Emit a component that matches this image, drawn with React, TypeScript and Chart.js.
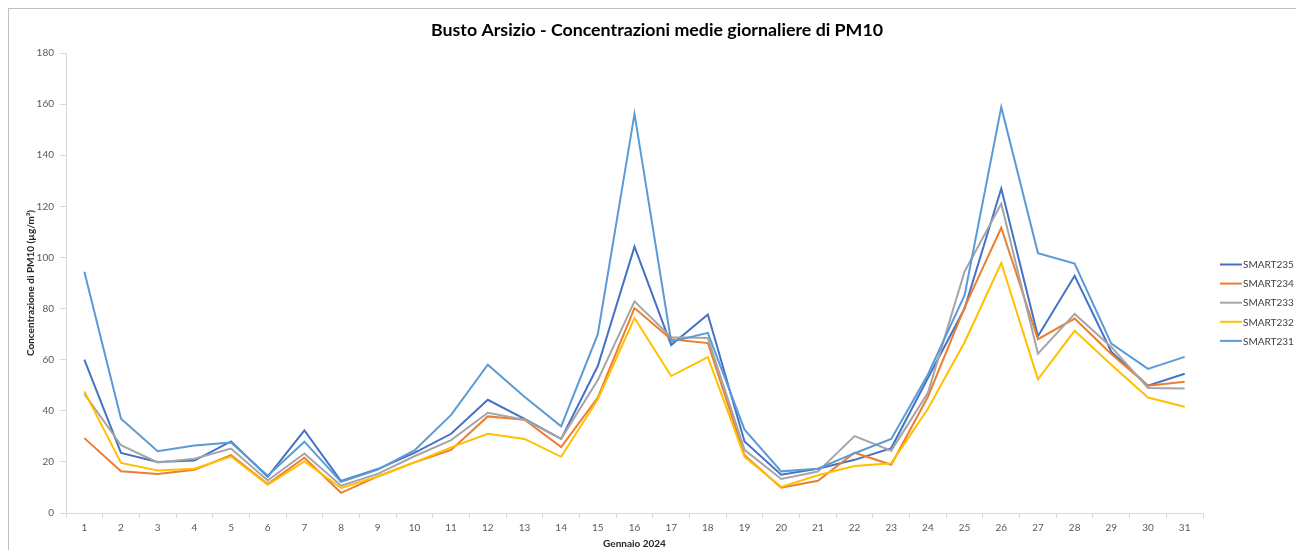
import React, { useEffect, useRef } from "react";
import { Chart, registerables } from "chart.js";

Chart.register(...registerables);

const days = Array.from({ length: 31 }, (_, i) => String(i + 1));

const smart235 = [60, 23.5, 20, 20.5, 28, 14.2, 32.3, 12.5, 17.2, 23.5, 31, 44.3, 36.8, 29, 57.5, 104.2, 65.7, 77.7, 28, 15, 17.3, 20.8, 25.4, 52.8, 80, 127, 69.2, 92.8, 63.1, 49.8, 54.5];
const smart234 = [29.3, 16.3, 15.3, 16.9, 22.6, 11.3, 21.6, 7.9, 14.3, 19.8, 24.7, 37.8, 36.5, 25.8, 45.2, 80.2, 68, 66.5, 22.6, 9.9, 12.6, 23.6, 18.9, 45.5, 80.5, 111.6, 68, 76.1, 62.2, 49.8, 51.4];
const smart233 = [46.6, 26.5, 19.8, 21.2, 25.2, 12.7, 23.3, 10.7, 15.3, 22.2, 28.5, 39.2, 36.5, 29, 52, 82.8, 68.8, 68.5, 24.7, 13.3, 16.2, 30.1, 24.4, 47, 94.5, 121, 62.3, 77.9, 65, 48.9, 48.7];
const smart232 = [47.6, 19.6, 16.6, 17.3, 22.1, 11, 20.2, 9.8, 14.3, 19.8, 25.7, 31, 29, 22, 44.5, 76.3, 53.6, 61, 22, 10.2, 14.8, 18.4, 19.5, 40.8, 66.8, 97.8, 52.3, 71.3, 58, 45.2, 41.6];
const smart231 = [94.4, 36.9, 24.2, 26.4, 27.6, 14.6, 27.9, 12.2, 17, 24.5, 38.4, 58, 45.5, 33.9, 70, 156.2, 67, 70.5, 32.6, 16.3, 17.3, 23.4, 29, 54.2, 85.2, 158.8, 101.7, 97.6, 66.3, 56.4, 61.1];

const seriesNames = ["SMART235", "SMART234", "SMART233", "SMART232", "SMART231"];
const seriesColors = ["#4472C4", "#ED7D31", "#A5A5A5", "#FFC000", "#5B9BD5"];
const seriesData = [smart235, smart234, smart233, smart232, smart231];

const yTicks = { min: 0, max: 180, step: 20 };

const titleText = "Busto Arsizio - Concentrazioni medie giornaliere di PM10";
const yTitle = "Concentrazione di PM10 (µg/m³)";
const xTitle = "Gennaio 2024";

const FONT = "Lato, 'Liberation Sans', sans-serif";

const overlayPlugin = {
  id: "overlay",
  afterDraw(chart: any) {
    const ctx = chart.ctx;
    ctx.save();
    // title
    ctx.fillStyle = "#000000";
    ctx.font = `bold 17.8px ${FONT}`;
    ctx.textAlign = "center";
    ctx.textBaseline = "middle";
    ctx.fillText(titleText, 648, 21);
    // legend
    ctx.font = `10px ${FONT}`;
    ctx.textAlign = "left";
    seriesNames.forEach((name, i) => {
      const y = 255.5 + i * 19.1;
      ctx.strokeStyle = seriesColors[i];
      ctx.lineWidth = 2;
      ctx.beginPath();
      ctx.moveTo(1211, y);
      ctx.lineTo(1233, y);
      ctx.stroke();
      ctx.fillStyle = "#404040";
      ctx.fillText(name, 1234, y + 0.5);
    });
    ctx.restore();
  },
};

export default function App() {
  const ref = useRef<HTMLCanvasElement | null>(null);
  useEffect(() => {
    if (!ref.current) return;
    const chart = new Chart(ref.current, {
      type: "line",
      data: {
        labels: days,
        datasets: seriesData.map((d, i) => ({
          label: seriesNames[i],
          data: d,
          borderColor: seriesColors[i],
          backgroundColor: seriesColors[i],
          borderWidth: 2,
          pointRadius: 0,
          tension: 0,
          fill: false,
          order: seriesData.length - i,
        })),
      },
      options: {
        animation: false,
        responsive: false,
        devicePixelRatio: 1,
        layout: { padding: { top: 44, right: 95, left: 0, bottom: 0 } },
        plugins: {
          legend: { display: false },
          title: { display: false },
          tooltip: { enabled: false },
        },
        scales: {
          x: {
            offset: true,
            grid: {
              offset: true,
              drawOnChartArea: false,
              drawTicks: true,
              tickLength: 5,
              color: "#D9D9D9",
            },
            border: { display: true, color: "#D9D9D9", width: 1 },
            ticks: {
              color: "#595959",
              font: { family: FONT, size: 10 },
              padding: 4,
              maxRotation: 0,
              autoSkip: false,
            },
            title: {
              display: true,
              text: xTitle,
              color: "#262626",
              font: { family: FONT, size: 10, weight: "bold" },
              padding: { top: 0, bottom: 0 },
            },
            afterFit(scale: any) {
              scale.height = 37;
            },
          },
          y: {
            min: yTicks.min,
            max: yTicks.max,
            grid: {
              drawOnChartArea: false,
              drawTicks: true,
              tickLength: 6,
              color: "#D9D9D9",
            },
            border: { display: true, color: "#D9D9D9", width: 1 },
            ticks: {
              stepSize: yTicks.step,
              color: "#595959",
              font: { family: FONT, size: 10 },
              padding: 6,
            },
            title: {
              display: true,
              text: yTitle,
              color: "#262626",
              font: { family: FONT, size: 10, weight: "bold" },
              padding: { top: 16, bottom: 0 },
            },
            afterFit(scale: any) {
              scale.width = 57;
            },
          },
        },
      },
      plugins: [overlayPlugin],
    });
    return () => chart.destroy();
  }, []);

  return (
    <div
      style={{
        position: "relative",
        boxSizing: "border-box",
        width: 1291,
        height: 542,
        borderTop: "1px solid #BFBFBF",
        borderLeft: "1px solid #BFBFBF",
        borderRight: "1px solid #BFBFBF",
        background: "#ffffff",
      }}
    >
      <canvas ref={ref} width={1289} height={541} style={{ display: "block", width: 1289, height: 541 }} />
    </div>
  );
}
